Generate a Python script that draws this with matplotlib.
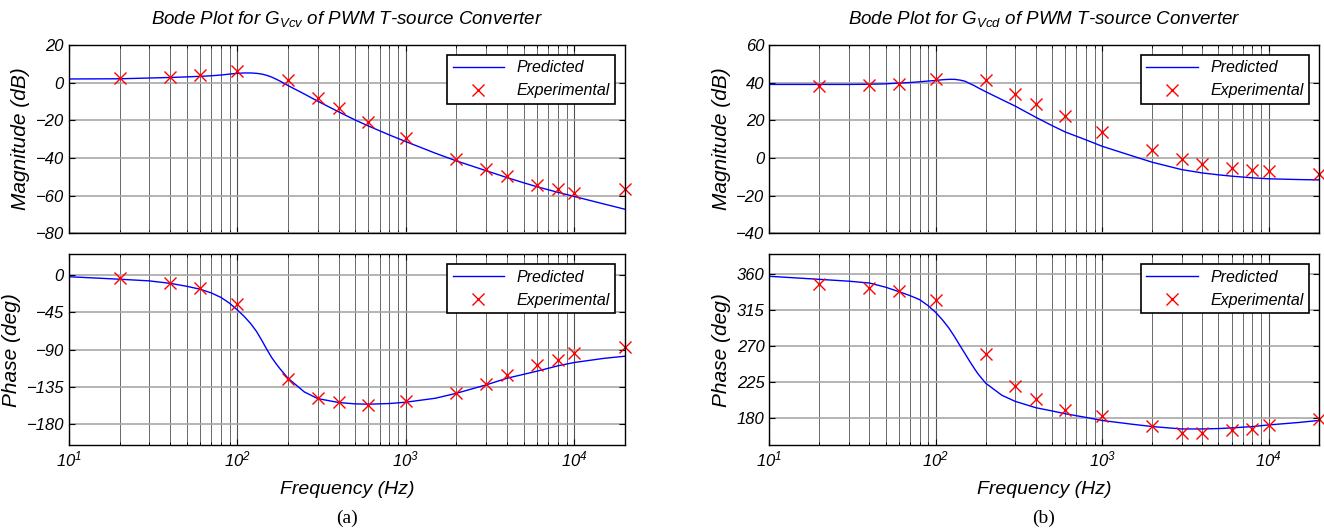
import matplotlib
matplotlib.use('Agg')
from matplotlib import pyplot as plt
from matplotlib.ticker import LogLocator, NullFormatter, FixedLocator

plt.rcParams['font.family'] = ['Liberation Sans', 'DejaVu Sans']
plt.rcParams['font.style'] = 'italic'
plt.rcParams['mathtext.fontset'] = 'custom'
plt.rcParams['mathtext.rm'] = 'Liberation Sans:italic'
plt.rcParams['mathtext.it'] = 'Liberation Sans:italic'

# measured points
f_exp = [20, 40, 60, 100, 200, 300, 400, 600, 1000, 2000, 3000, 4000, 6000, 8000, 10000, 20000]
mag_a_exp = [2.3, 3.0, 4.0, 6.0, 1.2, -7.9, -13.5, -21.0, -29.4, -40.4, -46.0, -49.8, -54.4, -56.5, -58.9, -56.8]
ph_a_exp = [-3.6, -9.3, -15.3, -35.4, -124.8, -148.0, -153.4, -156.6, -152.0, -142.0, -131.0, -120.4, -108.0, -103.0, -94.2, -86.2]
mag_b_exp = [38.4, 38.9, 39.3, 41.8, 41.3, 33.9, 28.9, 22.2, 14.0, 4.4, -0.5, -3.0, -5.1, -6.5, -7.1, -8.8]
ph_b_exp = [347.0, 342.3, 337.7, 327.1, 259.7, 219.2, 203.6, 190.1, 182.1, 169.8, 161.4, 161.4, 164.4, 165.7, 170.7, 178.7]

# predicted curves
f_pred = [10, 20, 30, 40, 50, 60, 70, 80, 90, 100, 110, 120, 130, 140, 150, 160, 170, 180, 200, 250,
          300, 400, 500, 600, 800, 1000, 1500, 2000, 3000, 4000, 5000, 6000, 8000, 10000, 15000, 20000]
mag_a_pred = [2.0, 2.1, 2.5, 2.8, 3.1, 3.4, 3.7, 4.1, 4.6, 5.0, 5.2, 5.2, 5.0, 4.6, 3.9, 3.0, 1.9, 0.8, -1.5, -6.0,
              -9.8, -15.5, -19.8, -23.0, -27.8, -31.3, -37.5, -41.6, -46.8, -50.5, -53.2, -55.3, -58.3, -60.5, -64.5, -67.3]
ph_a_pred = [-2.0, -5.0, -7.0, -10.0, -13.5, -17.0, -21.5, -27.0, -34.0, -42.0, -50.0, -58.5, -68.0, -79.0, -90.0, -99.5, -107.0, -113.5, -124.5, -141.0,
             -149.0, -153.8, -155.4, -155.8, -155.0, -153.4, -148.6, -142.6, -132.5, -124.4, -119.8, -116.0, -109.5, -105.5, -100.5, -97.9]
mag_b_pred = [39.1, 39.1, 39.1, 39.2, 39.4, 39.8, 40.1, 40.5, 40.9, 41.2, 41.6, 41.8, 41.8, 41.4, 40.8, 39.6, 38.5, 37.3, 35.2, 31.0,
              27.6, 21.6, 17.2, 13.8, 9.6, 6.2, 1.2, -2.3, -6.2, -8.0, -9.0, -9.7, -10.6, -11.1, -11.5, -11.7]
ph_b_pred = [356.6, 352.8, 350.5, 348.2, 343.0, 337.5, 332.5, 327.5, 320.0, 311.5, 302.0, 292.0, 281.0, 270.0, 260.0, 250.5, 242.0, 234.5, 223.0, 208.0,
             200.5, 192.5, 188.5, 185.0, 180.4, 176.6, 172.0, 169.0, 166.0, 166.0, 166.5, 167.3, 169.0, 171.0, 174.0, 176.6]

titles = [r'Bode Plot for G$_{Vcv}$ of PWM T-source Converter',
          r'Bode Plot for G$_{Vcd}$ of PWM T-source Converter']
mag_ticks = [[-80, -60, -40, -20, 0, 20], [-40, -20, 0, 20, 40, 60]]
ph_ticks = [[-180, -135, -90, -45, 0], [180, 225, 270, 315, 360]]
mag_lims = [(-80, 20), (-40, 60)]
ph_lims = [(-205, 25), (146, 384)]

fig = plt.figure(figsize=(13.24, 5.31), dpi=100)

lefts = [0.052, 0.581]
widths = [0.420, 0.415]
panels = [(mag_a_pred, ph_a_pred, mag_a_exp, ph_a_exp), (mag_b_pred, ph_b_pred, mag_b_exp, ph_b_exp)]


def style(ax):
    ax.set_xscale('log')
    ax.set_xlim(10, 20000)
    ax.xaxis.set_major_locator(LogLocator(base=10, numticks=10))
    ax.xaxis.set_minor_locator(LogLocator(base=10, subs=range(2, 10), numticks=10))
    ax.xaxis.set_minor_formatter(NullFormatter())
    ax.grid(True, which='major', axis='x', color='#505050', lw=0.8)
    ax.grid(True, which='minor', axis='x', color='#686868', lw=0.7)
    ax.grid(True, which='major', axis='y', color='#a8a8a8', lw=1.2)
    ax.tick_params(which='both', direction='in', top=True, right=True, labelsize=12)
    ax.tick_params(which='major', length=4)
    ax.tick_params(which='minor', length=2.5)
    for s in ax.spines.values():
        s.set_linewidth(1.0)


for i in range(2):
    mp, pp, me, pe = panels[i]
    ax1 = fig.add_axes([lefts[i], 0.561, widths[i], 0.354])
    ax2 = fig.add_axes([lefts[i], 0.162, widths[i], 0.359])
    for ax, yp, ye in [(ax1, mp, me), (ax2, pp, pe)]:
        style(ax)
        ax.plot(f_pred, yp, color='#0000ff', lw=1.0, label='Predicted')
        ax.plot(f_exp, ye, 'x', color='#ff0000', ms=9, mew=1.0, label='Experimental', clip_on=False)
        ax.legend(loc='upper right', fontsize=11.5, fancybox=False, edgecolor='black',
                  framealpha=1, borderaxespad=0.6, handlelength=3.2, borderpad=0.35,
                  labelspacing=0.5).get_frame().set_linewidth(1.2)
    ax1.set_ylim(*mag_lims[i])
    ax1.yaxis.set_major_locator(FixedLocator(mag_ticks[i]))
    ax1.set_xticklabels([])
    ax1.set_ylabel('Magnitude (dB)', fontsize=15)
    ax1.set_title(titles[i], fontsize=13.5, pad=15)
    ax2.set_ylim(*ph_lims[i])
    ax2.yaxis.set_major_locator(FixedLocator(ph_ticks[i]))
    ax2.set_ylabel('Phase (deg)', fontsize=15)
    ax2.set_xlabel('Frequency (Hz)', fontsize=14, labelpad=8)
    fig.text(lefts[i] + widths[i] / 2, 0.015, '(a)' if i == 0 else '(b)',
             family='Liberation Serif', style='normal', fontsize=14, ha='center')

plt.savefig('out.png', dpi=100)
